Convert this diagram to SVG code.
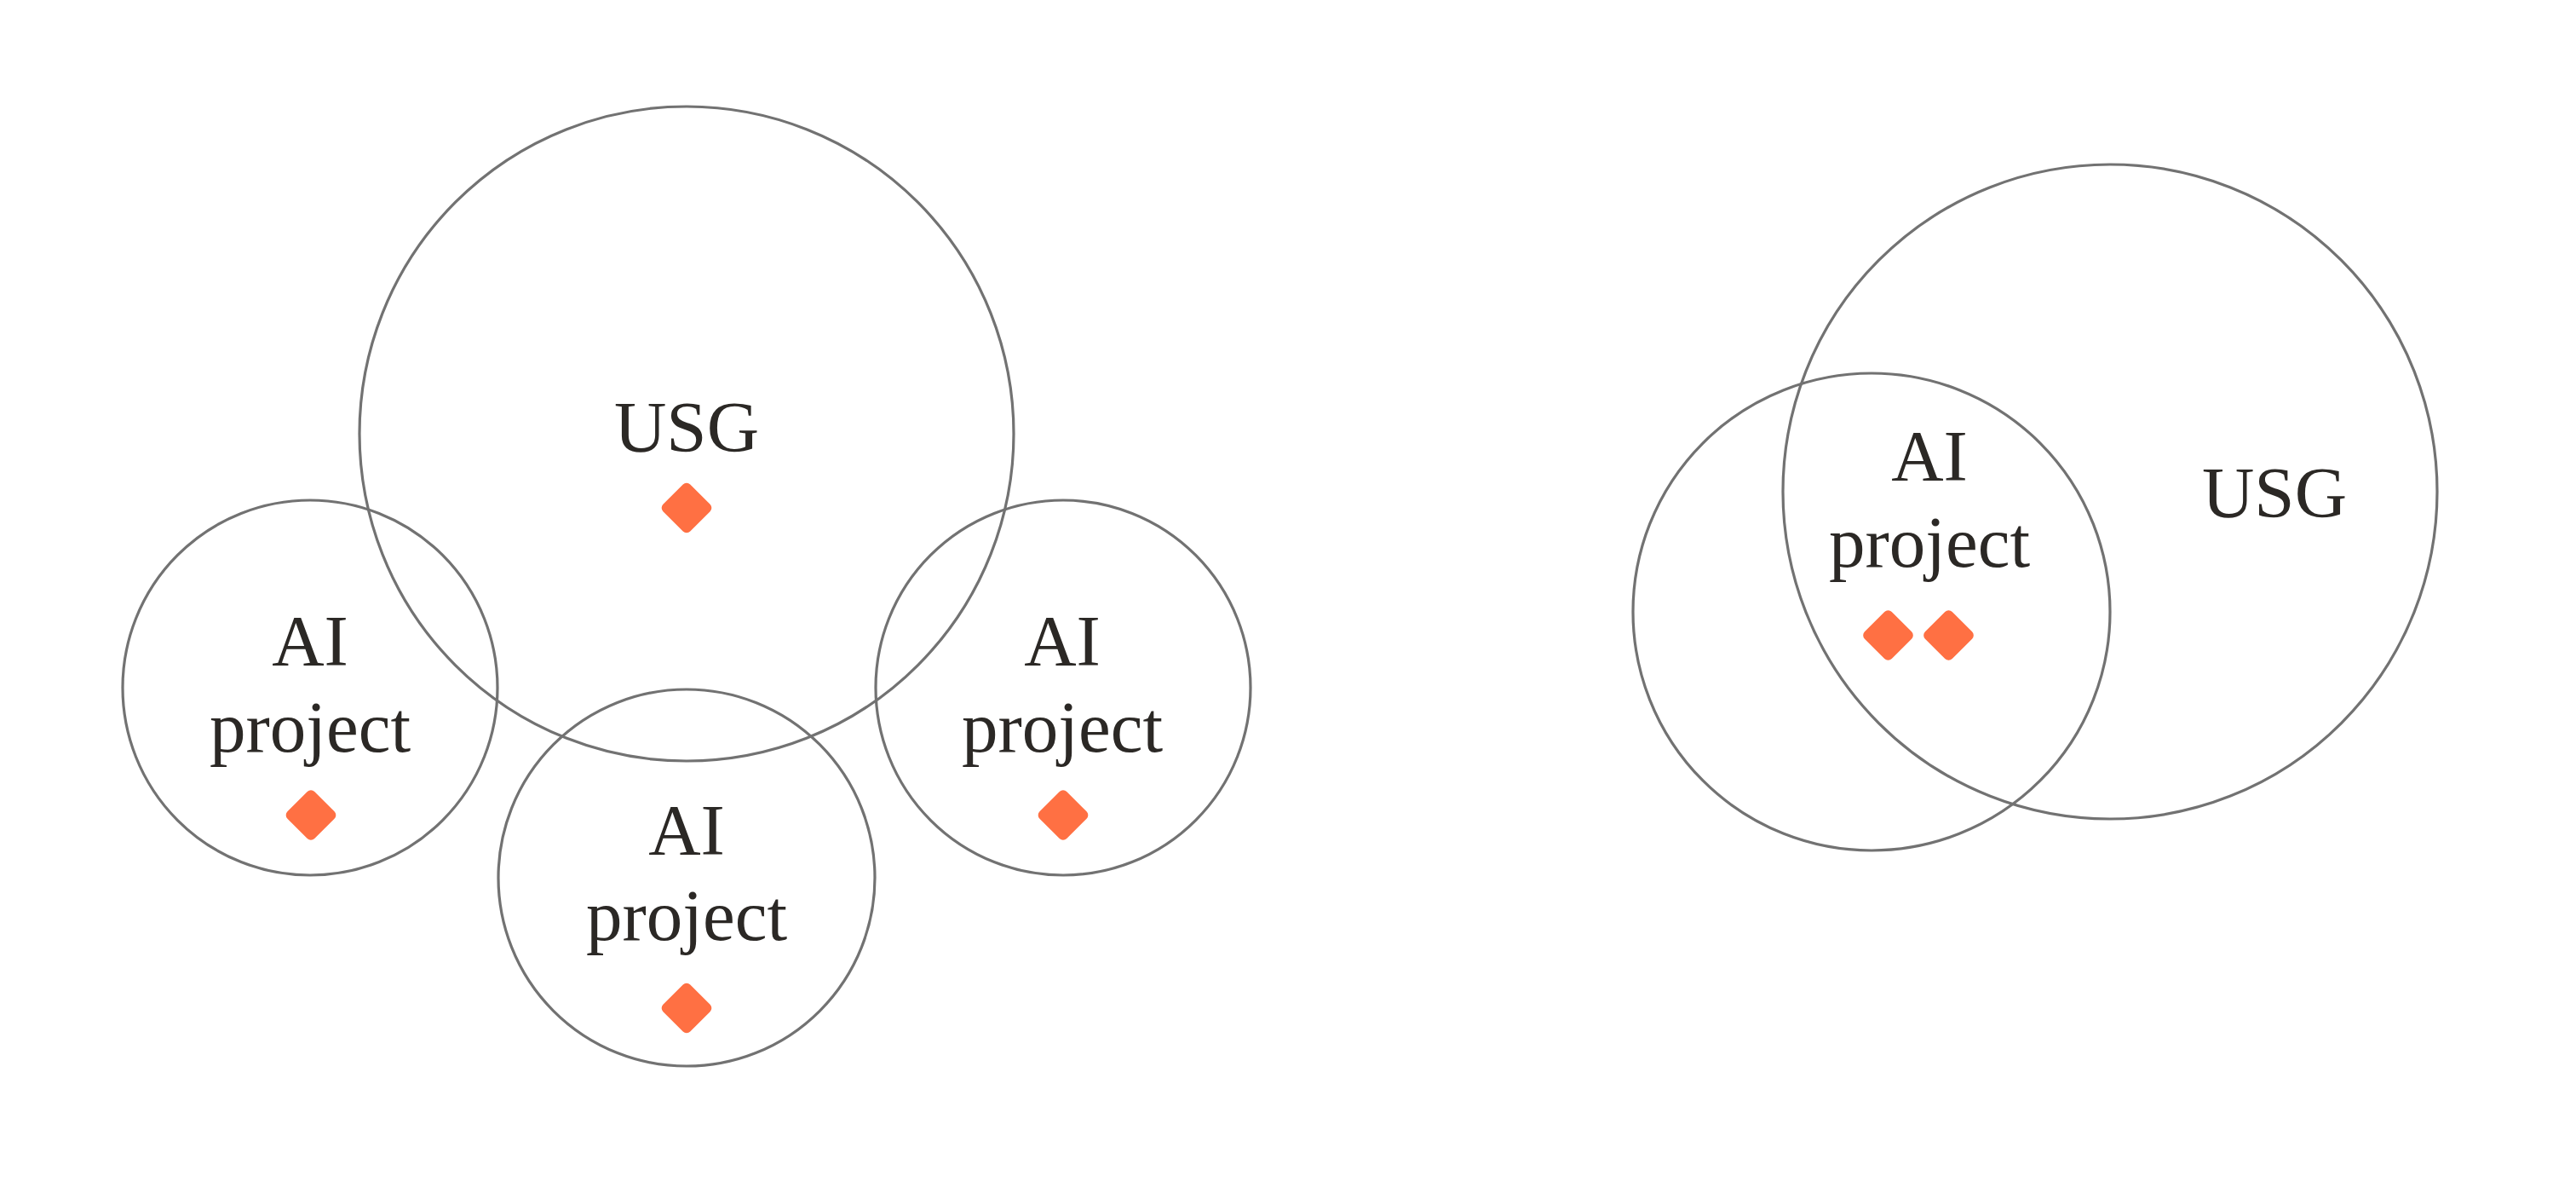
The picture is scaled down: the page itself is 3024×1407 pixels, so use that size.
<svg xmlns="http://www.w3.org/2000/svg" width="3024" height="1407" viewBox="0 0 3024 1407">
<style>
.ring{fill:none;stroke:#727272;stroke-width:3.2}
.lbl{font-family:"Liberation Serif","DejaVu Serif",serif;font-size:85px;fill:#2b2825;text-anchor:middle}
.dia{fill:#ff7043}
</style>
<defs>
<rect id="d" x="-22.5" y="-22.5" width="45" height="45" rx="6" ry="6" transform="rotate(45)"/>
</defs>
<rect width="3024" height="1407" fill="#ffffff"/>
<g id="usg-left">
<circle class="ring" cx="806" cy="509" r="384"/>
<text class="lbl" x="806" y="530">USG</text>
<use href="#d" class="dia" x="806" y="596"/>
</g>
<g id="ai-left">
<circle class="ring" cx="364" cy="807" r="220"/>
<text class="lbl" x="364" y="781">AI</text>
<text class="lbl" x="364" y="882">project</text>
<use href="#d" class="dia" x="365" y="956.5"/>
</g>
<g id="ai-bottom">
<circle class="ring" cx="806" cy="1030" r="221"/>
<text class="lbl" x="806" y="1003">AI</text>
<text class="lbl" x="806" y="1103">project</text>
<use href="#d" class="dia" x="806" y="1183"/>
</g>
<g id="ai-right">
<circle class="ring" cx="1248" cy="807" r="220"/>
<text class="lbl" x="1247" y="781">AI</text>
<text class="lbl" x="1247" y="882">project</text>
<use href="#d" class="dia" x="1248" y="956.5"/>
</g>
<g id="usg-right">
<circle class="ring" cx="2477" cy="577" r="384"/>
<text class="lbl" x="2670" y="607">USG</text>
</g>
<g id="ai-right-overlap">
<circle class="ring" cx="2197" cy="718" r="280"/>
<text class="lbl" x="2265" y="564">AI</text>
<text class="lbl" x="2265" y="665">project</text>
<use href="#d" class="dia" x="2216.5" y="745.5"/>
<use href="#d" class="dia" x="2287.5" y="745.5"/>
</g>
<g id="connectors"></g>
</svg>
